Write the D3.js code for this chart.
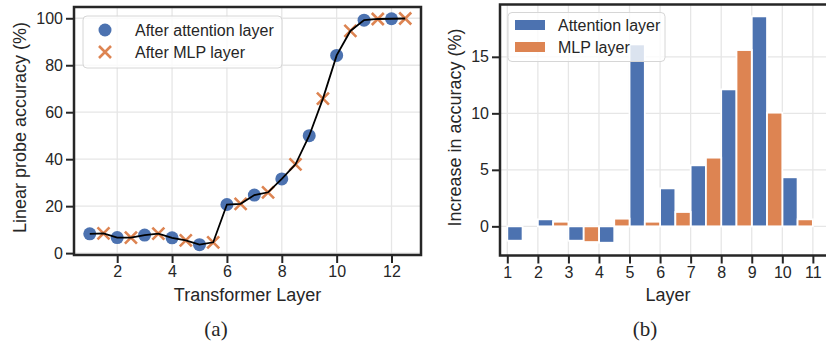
<!DOCTYPE html>
<html>
<head>
<meta charset="utf-8">
<script src="https://cdn.jsdelivr.net/npm/d3@7"></script>
<style>
  html, body { margin: 0; padding: 0; background: #fff; }
  svg { display: block; }
  text { font-family: "Liberation Sans", Arial, Helvetica, sans-serif; fill: #262626; }
</style>
</head>
<body>
<svg id="fig" width="826" height="344"></svg>
<script>
// Panel (a): linear probe accuracy per transformer layer
const attnLayers = [1, 2, 3, 4, 5, 6, 7, 8, 9, 10, 11, 12];
const attnAcc = [8.2, 6.6, 7.7, 6.5, 3.6, 20.7, 24.7, 31.6, 50.0, 84.2, 99.2, 99.8];
const mlpLayers = [1.5, 2.5, 3.5, 4.5, 5.5, 6.5, 7.5, 8.5, 9.5, 10.5, 11.5, 12.5];
const mlpAcc = [8.4, 6.6, 8.3, 5.4, 4.6, 21.0, 25.9, 37.8, 65.8, 94.6, 99.7, 99.9];
const ticksA_x = [2, 4, 6, 8, 10, 12];
const ticksA_y = [0, 20, 40, 60, 80, 100];

// Panel (b): increase in accuracy contributed by each sub-layer
const layersB = [1, 2, 3, 4, 5, 6, 7, 8, 9, 10];
const attnGain = [-1.27, 0.62, -1.27, -1.45, 16.1, 3.36, 5.4, 12.12, 18.58, 4.34];
const mlpGain = [0, 0.41, -1.39, 0.68, 0.41, 1.27, 6.08, 15.6, 10.06, 0.62];
const ticksB_x = [1, 2, 3, 4, 5, 6, 7, 8, 9, 10, 11];
const ticksB_y = [0, 5, 10, 15];

const BLUE = "#4c72b0", ORANGE = "#dd8452", INK = "#262626", GRID = "#e6e6e6";
const svg = d3.select("#fig");

function frame(g, x, y, xt, yt) {
  const [x0, x1] = x.range(), [y0, y1] = y.range();
  const grid = g.append("g");
  grid.selectAll("line.v").data(xt).join("line")
    .attr("x1", d => x(d)).attr("x2", d => x(d)).attr("y1", y0).attr("y2", y1)
    .attr("stroke", GRID).attr("stroke-width", 1.3);
  grid.selectAll("line.h").data(yt).join("line")
    .attr("y1", d => y(d)).attr("y2", d => y(d)).attr("x1", x0).attr("x2", x1)
    .attr("stroke", GRID).attr("stroke-width", 1.3);
}

function axes(g, x, y, xt, yt) {
  const [x0, x1] = x.range(), [y0, y1] = y.range();
  const ax = g.append("g").attr("transform", `translate(0,${y0})`)
    .call(d3.axisBottom(x).tickValues(xt).tickSize(8).tickPadding(3).tickSizeOuter(0));
  const ay = g.append("g").attr("transform", `translate(${x0},0)`)
    .call(d3.axisLeft(y).tickValues(yt).tickSize(8).tickPadding(3).tickSizeOuter(0));
  [ax, ay].forEach(a => {
    a.select(".domain").remove();
    a.selectAll(".tick line").attr("stroke", INK).attr("stroke-width", 2);
    a.selectAll(".tick text").attr("font-size", 16).attr("fill", INK)
      .style("font-family", '"Liberation Sans", Arial, sans-serif');
  });
  g.append("rect").attr("x", x0).attr("y", y1).attr("width", x1 - x0).attr("height", y0 - y1)
    .attr("fill", "none").attr("stroke", INK).attr("stroke-width", 2.5);
}

// ---------- (a) ----------
const gA = svg.append("g");
const xA = d3.scaleLinear().domain([0.425, 13.075]).range([74, 421]);
const yA = d3.scaleLinear().domain([-0.8, 104.8]).range([255, 7]);
frame(gA, xA, yA, ticksA_x, ticksA_y);

const merged = [];
attnLayers.forEach((l, i) => {
  merged.push([l, attnAcc[i]]);
  merged.push([mlpLayers[i], mlpAcc[i]]);
});

const crossPath = s => `M${-s},${-s}L${s},${s}M${-s},${s}L${s},${-s}`;

gA.selectAll("circle.attn").data(attnLayers).join("circle")
  .attr("cx", d => xA(d)).attr("cy", (d, i) => yA(attnAcc[i])).attr("r", 6.5)
  .attr("fill", BLUE);
gA.selectAll("path.mlp").data(mlpLayers).join("path")
  .attr("transform", (d, i) => `translate(${xA(d)},${yA(mlpAcc[i])})`)
  .attr("d", crossPath(6)).attr("stroke", ORANGE).attr("stroke-width", 2.6).attr("fill", "none");
gA.append("path").datum(merged)
  .attr("d", d3.line().x(d => xA(d[0])).y(d => yA(d[1])))
  .attr("fill", "none").attr("stroke", "#000").attr("stroke-width", 1.8);

axes(gA, xA, yA, ticksA_x, ticksA_y);

// legend (a)
const legA = gA.append("g");
legA.append("rect").attr("x", 83).attr("y", 16).attr("width", 199).attr("height", 52).attr("rx", 4)
  .attr("fill", "#fff").attr("fill-opacity", 0.8).attr("stroke", "#d6d6d6").attr("stroke-width", 1);
legA.append("circle").attr("cx", 105).attr("cy", 30).attr("r", 6.5).attr("fill", BLUE);
legA.append("path").attr("transform", "translate(105,52)").attr("d", crossPath(6))
  .attr("stroke", ORANGE).attr("stroke-width", 2.6);
legA.append("text").attr("x", 135).attr("y", 30).attr("dy", "0.35em").attr("font-size", 16).text("After attention layer");
legA.append("text").attr("x", 135).attr("y", 52).attr("dy", "0.35em").attr("font-size", 16).text("After MLP layer");

gA.append("text").attr("x", 247.5).attr("y", 301).attr("text-anchor", "middle").attr("font-size", 18)
  .text("Transformer Layer");
gA.append("text").attr("transform", "translate(26,127.5) rotate(-90)").attr("text-anchor", "middle")
  .attr("font-size", 18).text("Linear probe accuracy (%)");
gA.append("text").attr("x", 216).attr("y", 336).attr("text-anchor", "middle").attr("font-size", 21)
  .style("font-family", '"Liberation Serif", "Times New Roman", serif').attr("fill", "#000").text("(a)");

// ---------- (b) ----------
const gB = svg.append("g");
const xB = d3.scaleLinear().domain([0.761, 11.757]).range([500, 836]);
const yB = d3.scaleLinear().domain([-2.58, 19.63]).range([255.5, 4.5]);
frame(gB, xB, yB, ticksB_x, ticksB_y);

const barW = 0.5;
const bars = (vals, off, color) => gB.append("g").selectAll("rect").data(layersB).join("rect")
  .attr("x", d => xB(d + off - barW / 2))
  .attr("width", d => xB(d + off + barW / 2) - xB(d + off - barW / 2))
  .attr("y", (d, i) => yB(Math.max(0, vals[i])))
  .attr("height", (d, i) => Math.abs(yB(vals[i]) - yB(0)))
  .attr("fill", color).attr("stroke", "#fff").attr("stroke-width", 1.8);
bars(attnGain, 0.25, BLUE);
bars(mlpGain, 0.75, ORANGE);

axes(gB, xB, yB, ticksB_x, ticksB_y);

const legB = gB.append("g");
legB.append("rect").attr("x", 508).attr("y", 12.5).attr("width", 157).attr("height", 49).attr("rx", 4)
  .attr("fill", "#fff").attr("fill-opacity", 0.8).attr("stroke", "#d6d6d6").attr("stroke-width", 1);
legB.append("rect").attr("x", 515).attr("y", 20).attr("width", 30).attr("height", 10).attr("fill", BLUE);
legB.append("rect").attr("x", 515).attr("y", 42).attr("width", 30).attr("height", 10).attr("fill", ORANGE);
legB.append("text").attr("x", 558).attr("y", 25).attr("dy", "0.35em").attr("font-size", 16).text("Attention layer");
legB.append("text").attr("x", 558).attr("y", 47).attr("dy", "0.35em").attr("font-size", 16).text("MLP layer");

gB.append("text").attr("x", 668).attr("y", 301).attr("text-anchor", "middle").attr("font-size", 18).text("Layer");
gB.append("text").attr("transform", "translate(461,127.5) rotate(-90)").attr("text-anchor", "middle")
  .attr("font-size", 18).text("Increase in accuracy (%)");
gB.append("text").attr("x", 645).attr("y", 336).attr("text-anchor", "middle").attr("font-size", 21)
  .style("font-family", '"Liberation Serif", "Times New Roman", serif').attr("fill", "#000").text("(b)");
</script>
</body>
</html>
